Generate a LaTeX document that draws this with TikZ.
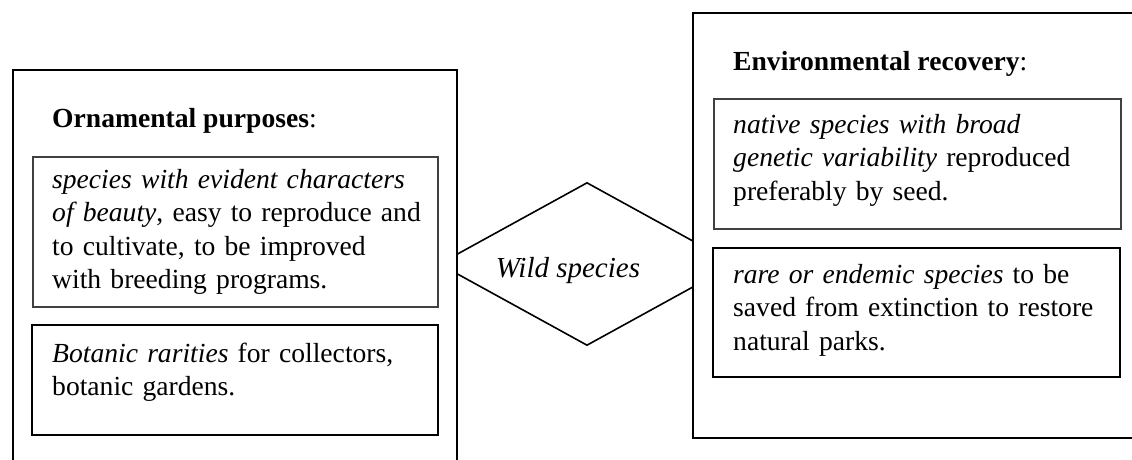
\documentclass[tikz,border=0pt]{standalone}
\usepackage{fontspec}
\setmainfont{Liberation Serif}
\usetikzlibrary{shapes.geometric}
\tikzset{
  outerbox/.style={line width=1.6pt, draw=black},
  innerbox/.style={line width=1.4pt, draw=black},
  softbox/.style={line width=1.2pt, draw=black!75},
  txt/.style={anchor=base west, inner sep=0pt, align=left, text width=400pt,
    font=\fontsize{27.6}{33.5}\selectfont},
  ttl/.style={anchor=base west, inner sep=0pt, font=\fontsize{27.6}{33.5}\selectfont},
}
\begin{document}
\begin{tikzpicture}[x=1pt,y=-1pt]
\useasboundingbox (0,0) rectangle (1132,459);
% diamond (behind boxes)
\node (wild) [diamond, draw, line width=1.6pt, minimum width=296pt, minimum height=163pt, inner sep=0pt] at (587,264) {};
\node (wildtxt) [anchor=base, inner sep=0pt, font=\fontsize{29}{33.5}\selectfont\itshape] at (568,277) {Wild species};
% left outer box (open at bottom)
\fill[white] (13,70) rectangle (457,470);
\draw[outerbox] (13,470) -- (13,70) -- (457,70) -- (457,470);
\node (lefttitle) [ttl] at (52,127) {\textbf{Ornamental purposes}:};
\node (l1box) [softbox, draw, rectangle, minimum width=405pt, minimum height=150pt, inner sep=0pt] at (235.5,232) {};
\node (l1) [txt] at (52,188) {\textit{species with evident characters}\\\textit{of beauty}, easy to reproduce and\\to cultivate, to be improved\\with breeding programs.};
\node (l2box) [innerbox, draw, rectangle, minimum width=406pt, minimum height=110pt, inner sep=0pt] at (235,380) {};
\node (l2) [txt] at (52,362) {\textit{Botanic rarities} for collectors,\\botanic gardens.};
% right outer box (open at right)
\fill[white] (693,13) rectangle (1140,438);
\draw[outerbox] (1140,13) -- (693,13) -- (693,438) -- (1140,438);
\node (righttitle) [ttl] at (733,70) {\textbf{Environmental recovery}:};
\node (r1box) [softbox, draw, rectangle, minimum width=407pt, minimum height=130pt, inner sep=0pt] at (917.5,164) {};
\node (r1) [txt] at (733,133) {\textit{native species with broad}\\\textit{genetic variability} reproduced\\preferably by seed.};
\node (r2box) [innerbox, draw, rectangle, minimum width=407pt, minimum height=129pt, inner sep=0pt] at (916.5,312.5) {};
\node (r2) [txt] at (733,283) {\textit{rare or endemic species} to be\\saved from extinction to restore\\natural parks.};
\end{tikzpicture}
\end{document}
